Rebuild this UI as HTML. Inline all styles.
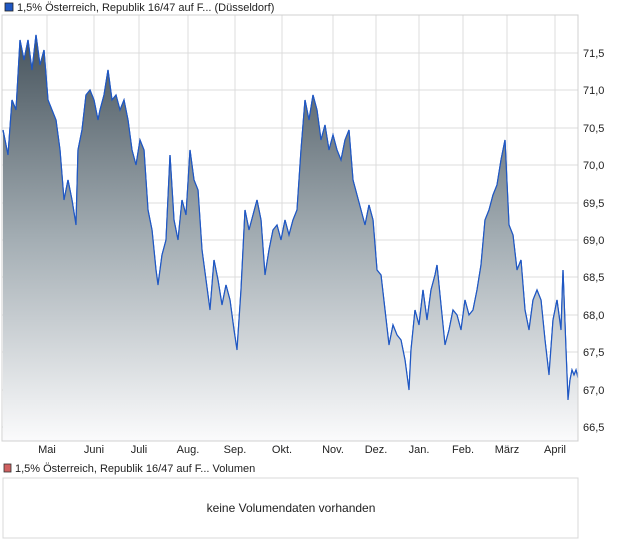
<!DOCTYPE html>
<html><head><meta charset="utf-8"><style>
body{margin:0;background:#fff;width:620px;height:546px;overflow:hidden;font-family:"Liberation Sans",sans-serif;}
</style></head><body>
<svg width="620" height="546" xmlns="http://www.w3.org/2000/svg" style="position:absolute;left:0;top:0">
<defs><linearGradient id="g" x1="0" y1="0" x2="0" y2="1" gradientUnits="objectBoundingBox">
<stop offset="0" stop-color="#46535c"/><stop offset="0.5" stop-color="#a3adb3"/><stop offset="1" stop-color="#fbfbfc"/></linearGradient></defs>
<rect x="5" y="3" width="8" height="8" fill="#1f57c3" stroke="#222" stroke-width="0.8"/>
<text x="17" y="11" font-size="11" fill="#222">1,5% Österreich, Republik 16/47 auf F... (Düsseldorf)</text>
<g stroke="#dcdcdc" stroke-width="1">
<line x1="2" y1="15" x2="578" y2="15"/>
<line x1="2" y1="53" x2="578" y2="53"/><line x1="2" y1="90" x2="578" y2="90"/><line x1="2" y1="128" x2="578" y2="128"/><line x1="2" y1="165" x2="578" y2="165"/><line x1="2" y1="203" x2="578" y2="203"/><line x1="2" y1="240" x2="578" y2="240"/><line x1="2" y1="277" x2="578" y2="277"/><line x1="2" y1="315" x2="578" y2="315"/><line x1="2" y1="352" x2="578" y2="352"/><line x1="2" y1="390" x2="578" y2="390"/><line x1="2" y1="427" x2="578" y2="427"/>
<line x1="47" y1="15" x2="47" y2="441"/><line x1="94" y1="15" x2="94" y2="441"/><line x1="139" y1="15" x2="139" y2="441"/><line x1="188" y1="15" x2="188" y2="441"/><line x1="235" y1="15" x2="235" y2="441"/><line x1="282" y1="15" x2="282" y2="441"/><line x1="333" y1="15" x2="333" y2="441"/><line x1="376" y1="15" x2="376" y2="441"/><line x1="419" y1="15" x2="419" y2="441"/><line x1="463" y1="15" x2="463" y2="441"/><line x1="507" y1="15" x2="507" y2="441"/><line x1="555" y1="15" x2="555" y2="441"/>
</g>
<path id="p" d="M3 130 L8 155 L12 100 L16 110 L20 40 L24 60 L28 40 L32 70 L36 35 L40 65 L44 50 L48 100 L52 110 L56 120 L60 150 L64 200 L68 180 L72 200 L76 225 L78 150 L82 130 L86 95 L90 90 L94 100 L98 120 L100 110 L104 95 L108 70 L112 100 L116 95 L120 110 L124 100 L128 120 L132 150 L136 165 L140 140 L144 150 L148 210 L152 230 L156 270 L158 285 L162 255 L166 240 L170 155 L174 220 L178 240 L182 200 L186 215 L190 150 L194 180 L198 190 L202 250 L206 280 L210 310 L214 260 L218 280 L222 305 L226 285 L230 300 L234 330 L237 350 L241 290 L245 210 L249 230 L253 215 L257 200 L261 220 L265 275 L269 250 L273 230 L277 225 L281 240 L285 220 L289 235 L293 220 L297 210 L301 150 L305 100 L309 120 L313 95 L317 110 L321 140 L325 125 L329 150 L333 135 L337 150 L341 160 L345 140 L349 130 L353 180 L357 195 L361 210 L365 225 L369 205 L373 220 L377 270 L381 275 L385 310 L389 345 L393 325 L397 335 L401 340 L405 360 L409 390 L411 350 L415 310 L419 325 L423 290 L427 320 L431 290 L435 275 L437 265 L441 305 L445 345 L449 330 L453 310 L457 315 L461 330 L465 300 L469 315 L473 310 L477 290 L481 265 L485 220 L489 210 L493 195 L497 185 L501 160 L505 140 L509 225 L513 235 L517 270 L521 260 L525 310 L529 330 L533 300 L537 290 L541 300 L545 340 L549 375 L553 320 L557 300 L561 330 L563 270 L566 350 L568 400 L570 380 L572 370 L574 375 L576 370 L578 378" fill="none" stroke="#1f57c3" stroke-width="1.2"/>
<path d="M3 130 L8 155 L12 100 L16 110 L20 40 L24 60 L28 40 L32 70 L36 35 L40 65 L44 50 L48 100 L52 110 L56 120 L60 150 L64 200 L68 180 L72 200 L76 225 L78 150 L82 130 L86 95 L90 90 L94 100 L98 120 L100 110 L104 95 L108 70 L112 100 L116 95 L120 110 L124 100 L128 120 L132 150 L136 165 L140 140 L144 150 L148 210 L152 230 L156 270 L158 285 L162 255 L166 240 L170 155 L174 220 L178 240 L182 200 L186 215 L190 150 L194 180 L198 190 L202 250 L206 280 L210 310 L214 260 L218 280 L222 305 L226 285 L230 300 L234 330 L237 350 L241 290 L245 210 L249 230 L253 215 L257 200 L261 220 L265 275 L269 250 L273 230 L277 225 L281 240 L285 220 L289 235 L293 220 L297 210 L301 150 L305 100 L309 120 L313 95 L317 110 L321 140 L325 125 L329 150 L333 135 L337 150 L341 160 L345 140 L349 130 L353 180 L357 195 L361 210 L365 225 L369 205 L373 220 L377 270 L381 275 L385 310 L389 345 L393 325 L397 335 L401 340 L405 360 L409 390 L411 350 L415 310 L419 325 L423 290 L427 320 L431 290 L435 275 L437 265 L441 305 L445 345 L449 330 L453 310 L457 315 L461 330 L465 300 L469 315 L473 310 L477 290 L481 265 L485 220 L489 210 L493 195 L497 185 L501 160 L505 140 L509 225 L513 235 L517 270 L521 260 L525 310 L529 330 L533 300 L537 290 L541 300 L545 340 L549 375 L553 320 L557 300 L561 330 L563 270 L566 350 L568 400 L570 380 L572 370 L574 375 L576 370 L578 378 L578 441 L3 441 Z" fill="url(#g)"/>
<use href="#p"/>
<rect x="2" y="15" width="576" height="426" fill="none" stroke="#d0d0d0"/>
<g font-size="11" fill="#222">
<text x="583" y="57">71,5</text><text x="583" y="94">71,0</text><text x="583" y="132">70,5</text><text x="583" y="169">70,0</text><text x="583" y="207">69,5</text><text x="583" y="244">69,0</text><text x="583" y="281">68,5</text><text x="583" y="319">68,0</text><text x="583" y="356">67,5</text><text x="583" y="394">67,0</text><text x="583" y="431">66,5</text>
</g>
<g font-size="11" fill="#222" text-anchor="middle">
<text x="47" y="453">Mai</text><text x="94" y="453">Juni</text><text x="139" y="453">Juli</text><text x="188" y="453">Aug.</text><text x="235" y="453">Sep.</text><text x="282" y="453">Okt.</text><text x="333" y="453">Nov.</text><text x="376" y="453">Dez.</text><text x="419" y="453">Jan.</text><text x="463" y="453">Feb.</text><text x="507" y="453">März</text><text x="555" y="453">April</text>
</g>
<rect x="4" y="464" width="7" height="8" fill="#d06060" stroke="#333" stroke-width="0.8"/>
<text x="15" y="472" font-size="11" fill="#222">1,5% Österreich, Republik 16/47 auf F... Volumen</text>
<rect x="3" y="478" width="575" height="60" fill="#fff" stroke="#d8d8d8"/>
<text x="291" y="512" font-size="12" fill="#222" text-anchor="middle">keine Volumendaten vorhanden</text>
</svg>
</body></html>
